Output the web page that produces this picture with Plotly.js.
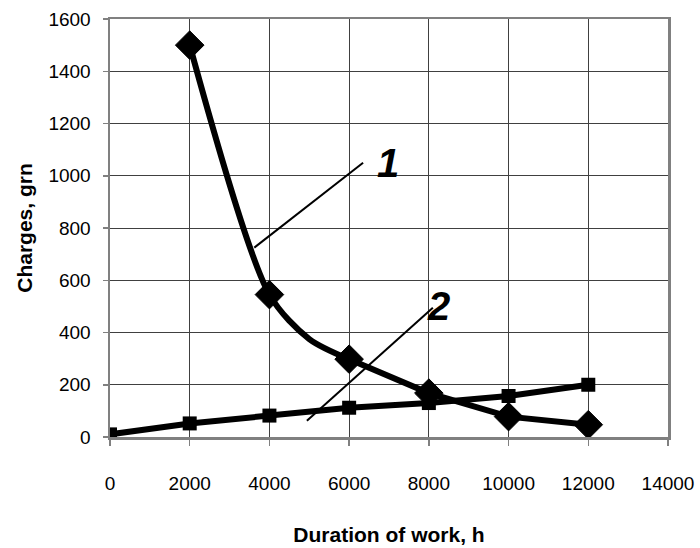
<!DOCTYPE html>
<html>
<head>
<meta charset="utf-8">
<script src="https://cdn.plot.ly/plotly-3.0.1.min.js"></script>
<style>html,body{margin:0;padding:0;background:#fff}#chart{width:700px;height:548px}</style>
</head>
<body>
<div id="chart"></div>
<script>
// Curve 1 (diamonds): charges vs duration
const hours1 = [2000, 4000, 5000, 6000, 8000, 10000, 12000];
const charges1 = [1500, 545, 375, 298, 168, 78, 47];
const showMarker1 = [true, true, false, true, true, true, true];
// Curve 2 (squares)
const hours2 = [0, 2000, 4000, 6000, 8000, 10000, 12000];
const charges2 = [10, 52, 82, 112, 130, 157, 200];
// Axis ticks
const xTicks = [0, 2000, 4000, 6000, 8000, 10000, 12000, 14000];
const yTicks = [0, 200, 400, 600, 800, 1000, 1200, 1400, 1600];
// Curve labels
const curveLabels = ['1', '2'];

const FONT = 'Liberation Sans, Arial, sans-serif';
const splitIdx = 3; // smoothed part up to 6000 h, straight afterwards

const mx1 = hours1.filter((_, i) => showMarker1[i]);
const my1 = charges1.filter((_, i) => showMarker1[i]);

const traces = [
  {
    x: hours2, y: charges2, type: 'scatter', mode: 'lines+markers',
    line: {color: '#000', width: 6},
    marker: {symbol: 'square', size: 14, color: '#000', opacity: 1, line: {width: 0}}
  },
  {
    x: hours1.slice(0, splitIdx + 1), y: charges1.slice(0, splitIdx + 1), type: 'scatter', mode: 'lines',
    line: {color: '#000', width: 6, shape: 'spline', smoothing: 0.8}
  },
  {
    x: hours1.slice(splitIdx), y: charges1.slice(splitIdx), type: 'scatter', mode: 'lines',
    line: {color: '#000', width: 6}
  },
  {
    x: mx1, y: my1, type: 'scatter', mode: 'markers',
    marker: {symbol: 'diamond', size: 22, color: '#000', opacity: 1, line: {color: '#000', width: 1}}
  }
];

const layout = {
  width: 700, height: 548,
  margin: {l: 110, r: 32, t: 19, b: 111},
  paper_bgcolor: '#fff', plot_bgcolor: '#fff',
  showlegend: false,
  font: {family: FONT, color: '#000'},
  xaxis: {
    range: [0, 14000], tickvals: xTicks, ticktext: xTicks.map(String),
    showgrid: true, gridcolor: '#404040', gridwidth: 1,
    zeroline: false, showline: true, mirror: true,
    linecolor: '#808080', linewidth: 2.5,
    ticks: 'outside', ticklen: 6, tickcolor: '#808080', tickwidth: 1.5,
    ticklabelstandoff: 22,
    tickfont: {family: FONT, size: 19, color: '#000'},
    title: {text: '<b>Duration of work, h</b>', font: {family: FONT, size: 21, color: '#000'}, standoff: 34}
  },
  yaxis: {
    range: [0, 1600], tickvals: yTicks, ticktext: yTicks.map(String),
    showgrid: true, gridcolor: '#404040', gridwidth: 1,
    zeroline: false, showline: true, mirror: true,
    linecolor: '#808080', linewidth: 2.5,
    ticks: 'outside', ticklen: 5, tickcolor: '#808080', tickwidth: 1.5,
    ticklabelstandoff: 8,
    tickfont: {family: FONT, size: 19, color: '#000'},
    title: {text: '<b>Charges, grn</b>', font: {family: FONT, size: 21, color: '#000'}, standoff: 10}
  },
  shapes: [
    {type: 'line', xref: 'x', yref: 'y', x0: 3620, y0: 725, x1: 6350, y1: 1050, line: {color: '#000', width: 2}},
    {type: 'line', xref: 'x', yref: 'y', x0: 4940, y0: 62, x1: 8100, y1: 495, line: {color: '#000', width: 2}}
  ],
  annotations: [
    {xref: 'x', yref: 'y', x: 6980, y: 1050, text: '<b><i>' + curveLabels[0] + '</i></b>', showarrow: false,
     font: {family: FONT, size: 40, color: '#000'}},
    {xref: 'x', yref: 'y', x: 8240, y: 500, text: '<b><i>' + curveLabels[1] + '</i></b>', showarrow: false,
     font: {family: FONT, size: 40, color: '#000'}}
  ]
};

Plotly.newPlot('chart', traces, layout, {staticPlot: true, displayModeBar: false});
</script>
</body>
</html>
